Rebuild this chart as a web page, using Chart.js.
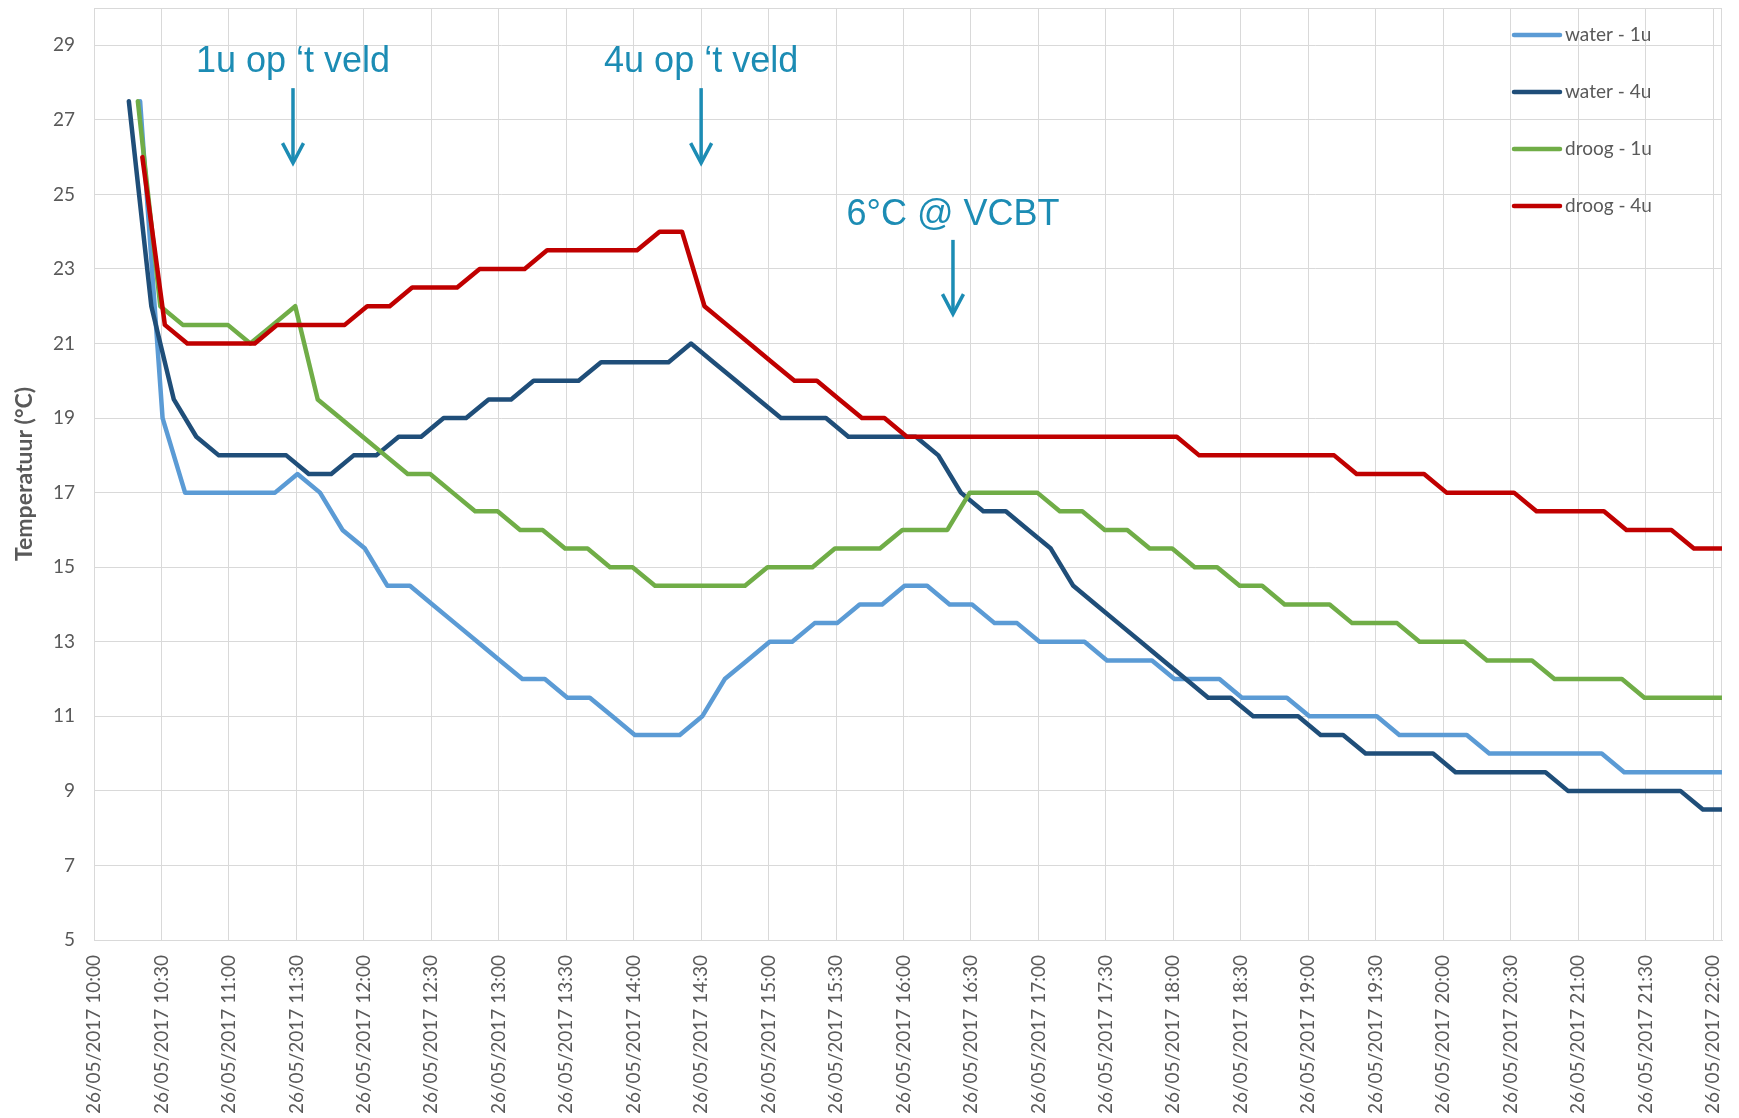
<!DOCTYPE html>
<html>
<head>
<meta charset="utf-8">
<title>Temperatuur</title>
<script src="https://cdn.jsdelivr.net/npm/chart.js@4.4.1/dist/chart.umd.min.js"></script>
<style>
  html, body { margin: 0; padding: 0; background: #fff; }
  canvas { display: block; }
</style>
</head>
<body>
<canvas id="chartCanvas" width="1739" height="1118"></canvas>
<script>
// --- data ---
const dateLabel = '26/05/2017';
const timeLabels = ['10:00', '10:30', '11:00', '11:30', '12:00', '12:30', '13:00', '13:30', '14:00',
  '14:30', '15:00', '15:30', '16:00', '16:30', '17:00', '17:30', '18:00', '18:30', '19:00',
  '19:30', '20:00', '20:30', '21:00', '21:30', '22:00'];
const tempTicks = [5, 7, 9, 11, 13, 15, 17, 19, 21, 23, 25, 27, 29];
const seriesNames = ['water - 1u', 'water - 4u', 'droog - 1u', 'droog - 4u'];

// logger samples every 10 minutes, each probe started at its own time
const sampleStep = 10;
const startTimes = ['10:20:30', '10:15:30', '10:19:30', '10:21:30'];

const water1u = [27.5, 19, 17, 17, 17, 17, 17, 17.5, 17, 16, 15.5, 14.5, 14.5, 14, 13.5, 13, 12.5, 12,
  12, 11.5, 11.5, 11, 10.5, 10.5, 10.5, 11, 12, 12.5, 13, 13, 13.5, 13.5, 14, 14, 14.5, 14.5,
  14, 14, 13.5, 13.5, 13, 13, 13, 12.5, 12.5, 12.5, 12, 12, 12, 11.5, 11.5, 11.5, 11, 11,
  11, 11, 10.5, 10.5, 10.5, 10.5, 10, 10, 10, 10, 10, 10, 9.5, 9.5, 9.5, 9.5, 9.5, 9.5];
const water4u = [27.5, 22, 19.5, 18.5, 18, 18, 18, 18, 17.5, 17.5, 18, 18, 18.5, 18.5, 19, 19, 19.5, 19.5,
  20, 20, 20, 20.5, 20.5, 20.5, 20.5, 21, 20.5, 20, 19.5, 19, 19, 19, 18.5, 18.5, 18.5, 18.5,
  18, 17, 16.5, 16.5, 16, 15.5, 14.5, 14, 13.5, 13, 12.5, 12, 11.5, 11.5, 11, 11, 11, 10.5,
  10.5, 10, 10, 10, 10, 9.5, 9.5, 9.5, 9.5, 9.5, 9, 9, 9, 9, 9, 9, 8.5, 8.5];
const droog1u = [27.5, 22, 21.5, 21.5, 21.5, 21, 21.5, 22, 19.5, 19, 18.5, 18, 17.5, 17.5, 17, 16.5, 16.5, 16,
  16, 15.5, 15.5, 15, 15, 14.5, 14.5, 14.5, 14.5, 14.5, 15, 15, 15, 15.5, 15.5, 15.5, 16, 16,
  16, 17, 17, 17, 17, 16.5, 16.5, 16, 16, 15.5, 15.5, 15, 15, 14.5, 14.5, 14, 14, 14,
  13.5, 13.5, 13.5, 13, 13, 13, 12.5, 12.5, 12.5, 12, 12, 12, 12, 11.5, 11.5, 11.5, 11.5, 11.5];
const droog4u = [26, 21.5, 21, 21, 21, 21, 21.5, 21.5, 21.5, 21.5, 22, 22, 22.5, 22.5, 22.5, 23, 23, 23,
  23.5, 23.5, 23.5, 23.5, 23.5, 24, 24, 22, 21.5, 21, 20.5, 20, 20, 19.5, 19, 19, 18.5, 18.5,
  18.5, 18.5, 18.5, 18.5, 18.5, 18.5, 18.5, 18.5, 18.5, 18.5, 18.5, 18, 18, 18, 18, 18, 18, 18,
  17.5, 17.5, 17.5, 17.5, 17, 17, 17, 17, 16.5, 16.5, 16.5, 16.5, 16, 16, 16, 15.5, 15.5, 15.5];

const seriesValues = [water1u, water4u, droog1u, droog4u];
const seriesColors = ['#5b9bd5', '#1f4e79', '#70ad47', '#c00000'];

// notes on the chart: time of the arrow, text baseline / arrow start / arrow tip in °C
const notes = [
  { text: '1u op \u2018t veld', time: '11:28:30', textAt: 28.28, from: 27.85, to: 25.84 },
  { text: '4u op \u2018t veld', time: '14:30:00', textAt: 28.28, from: 27.85, to: 25.84 },
  { text: '6°C @ VCBT', time: '16:22:00', textAt: 24.18, from: 23.78, to: 21.79 }
];

// minutes after 10:00
function toMinutes(t) {
  let p = t.split(':').map(Number);
  return (p[0] - 10) * 60 + p[1] + (p[2] || 0) / 60;
}

function pad(n) { return (n < 10 ? '0' : '') + n; }

function formatTime(m) {
  let total = Math.round(m) + 600;
  return dateLabel + ' ' + pad(Math.floor(total / 60)) + ':' + pad(total % 60);
}

const gray = '#595959';
const gridColor = '#d9d9d9';
const noteColor = '#1c8cb4';

let datasets = seriesValues.map((values, i) => {
  let start = toMinutes(startTimes[i]);
  return {
    label: seriesNames[i],
    data: values.map((v, k) => ({ x: start + k * sampleStep, y: v })),
    borderColor: seriesColors[i],
    backgroundColor: seriesColors[i],
    borderWidth: 4.5,
    borderJoinStyle: 'round',
    borderCapStyle: 'round',
    pointRadius: 0,
    tension: 0,
    order: seriesNames.length - i
  };
});

const extras = {
  id: 'extras',
  beforeDraw(chart) {
    let ctx = chart.ctx;
    ctx.save();
    ctx.fillStyle = '#fff';
    ctx.fillRect(0, 0, chart.width, chart.height);
    ctx.restore();
  },
  beforeDatasetsDraw(chart) {
    let a = chart.chartArea;
    let ctx = chart.ctx;
    ctx.save();
    ctx.strokeStyle = gridColor;
    ctx.lineWidth = 1;
    ctx.strokeRect(a.left + 0.5, a.top + 0.5, a.right - a.left - 1, a.bottom - a.top);
    ctx.restore();
  },
  afterDraw(chart) {
    let ctx = chart.ctx;
    let a = chart.chartArea;
    let xs = chart.scales.x;
    let ys = chart.scales.y;
    ctx.save();

    // legend, top right inside the plot
    ctx.font = '19px Lato';
    ctx.textBaseline = 'middle';
    ctx.textAlign = 'left';
    ctx.lineCap = 'round';
    seriesNames.forEach((name, i) => {
      let y = a.top + 27 + i * 57;
      ctx.strokeStyle = seriesColors[i];
      ctx.lineWidth = 4.5;
      ctx.beginPath();
      ctx.moveTo(a.right - 208, y);
      ctx.lineTo(a.right - 162, y);
      ctx.stroke();
      ctx.fillStyle = gray;
      ctx.fillText(name, a.right - 157, y);
    });

    // notes with arrows
    ctx.fillStyle = noteColor;
    ctx.strokeStyle = noteColor;
    ctx.font = '36px "Liberation Sans"';
    ctx.textAlign = 'center';
    ctx.textBaseline = 'alphabetic';
    ctx.lineWidth = 3.5;
    ctx.lineCap = 'butt';
    ctx.lineJoin = 'miter';
    notes.forEach(n => {
      let x = xs.getPixelForValue(toMinutes(n.time));
      ctx.fillText(n.text, x, ys.getPixelForValue(n.textAt));
      let y0 = ys.getPixelForValue(n.from);
      let y1 = ys.getPixelForValue(n.to);
      ctx.beginPath();
      ctx.moveTo(x, y0);
      ctx.lineTo(x, y1 - 2);
      ctx.stroke();
      ctx.beginPath();
      ctx.moveTo(x - 10.5, y1 - 20);
      ctx.lineTo(x, y1);
      ctx.lineTo(x + 10.5, y1 - 20);
      ctx.stroke();
    });
    ctx.restore();
  }
};

window.chart = new Chart('chartCanvas', {
  type: 'line',
  data: { datasets: datasets },
  options: {
    responsive: false,
    animation: false,
    devicePixelRatio: 1,
    layout: { padding: { left: 0, top: 8, right: 17, bottom: 0 } },
    plugins: {
      legend: { display: false },
      tooltip: { enabled: false }
    },
    scales: {
      x: {
        type: 'linear',
        min: 0,
        max: toMinutes('22:04'),
        afterBuildTicks: (scale) => {
          scale.ticks = timeLabels.map(t => ({ value: toMinutes(t) }));
        },
        afterFit: (scale) => {
          scale.height = 178;
          scale.paddingLeft = 0;
          scale.paddingRight = 0;
        },
        ticks: {
          autoSkip: false,
          minRotation: 90,
          maxRotation: 90,
          padding: 15,
          color: gray,
          font: { family: 'Lato', size: 19 },
          callback: (v) => formatTime(v)
        },
        grid: { color: gridColor, drawTicks: false },
        border: { color: gridColor }
      },
      y: {
        min: 5,
        max: 30,
        afterBuildTicks: (scale) => {
          scale.ticks = tempTicks.map(v => ({ value: v }));
        },
        afterFit: (scale) => {
          scale.width = 94;
          scale.paddingTop = 0;
          scale.paddingBottom = 0;
        },
        ticks: {
          padding: 19,
          color: gray,
          font: { family: 'Lato', size: 19 }
        },
        grid: { color: gridColor, drawTicks: false },
        border: { color: gridColor },
        title: {
          display: true,
          text: 'Temperatuur (°C)',
          color: gray,
          font: { family: 'Lato', size: 23, weight: 'bold' },
          padding: { top: 11, bottom: 0 }
        }
      }
    }
  },
  plugins: [extras]
});
</script>
</body>
</html>
